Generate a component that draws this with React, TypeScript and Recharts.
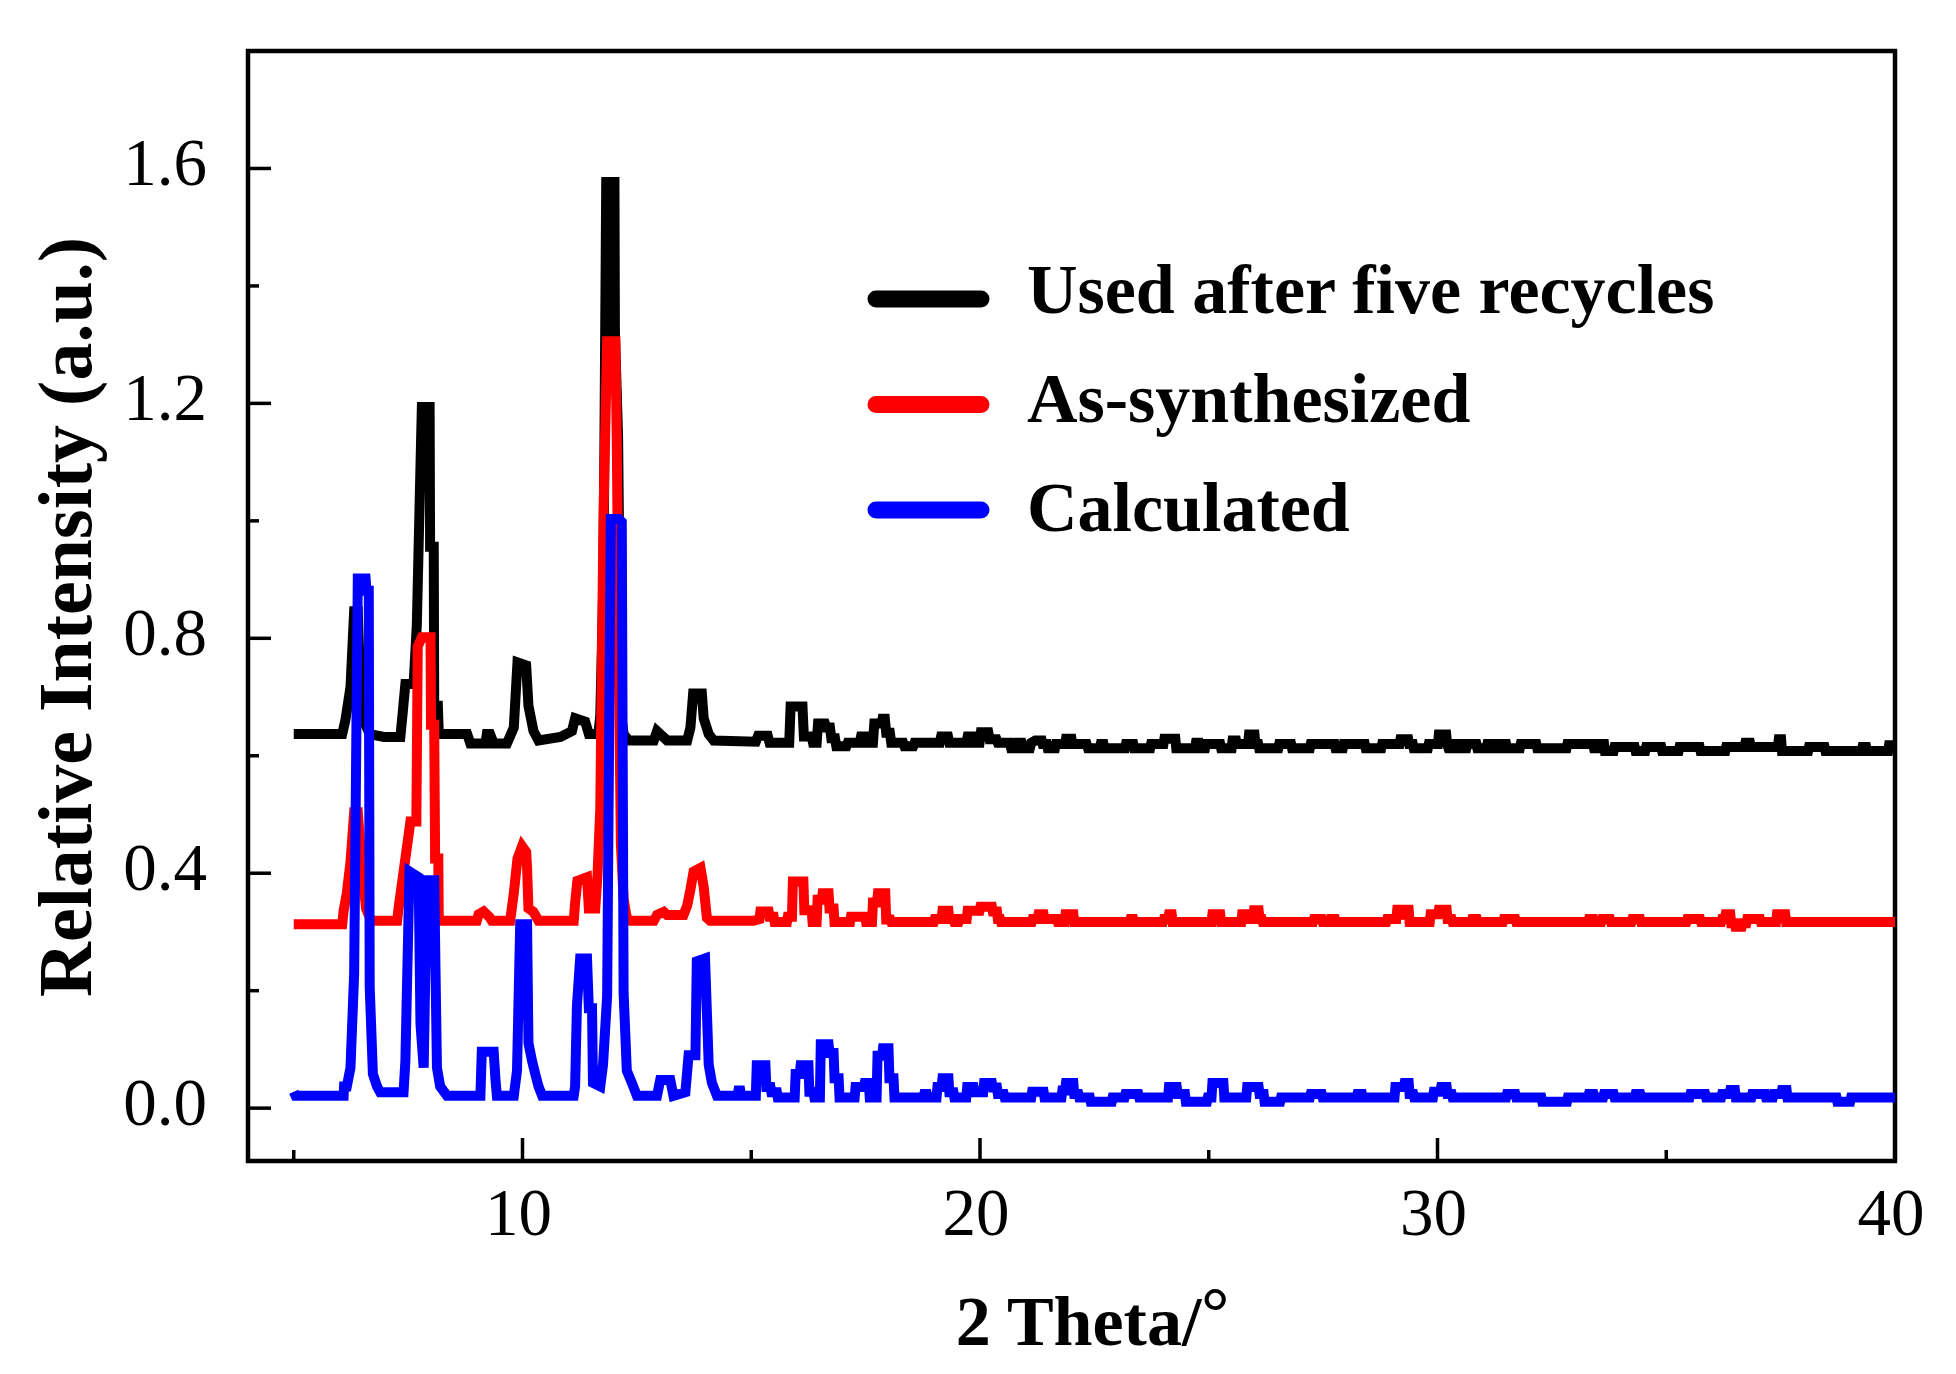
import React from 'react'
import { LineChart, Line, XAxis, YAxis, Legend, Label, ReferenceArea } from 'recharts'

type Pt = [number, number]

const seriesNames = ['Used after five recycles', 'As-synthesized', 'Calculated']
const seriesColors = ['#000000', '#ff0000', '#0000ff']

const xTicks = [5, 10, 15, 20, 25, 30, 35, 40]
const yTicks = [0, 0.2, 0.4, 0.6, 0.8, 1.0, 1.2, 1.4, 1.6]

// 2 theta / relative intensity
const usedRecycled: Pt[] = [
  [5.0, 0.637], [6.06, 0.637], [6.13, 0.661], [6.24, 0.717], [6.32, 0.846], [6.40, 0.846], [6.46, 0.70], [6.56, 0.655],
  [6.66, 0.637], [6.97, 0.632], [7.33, 0.632], [7.37, 0.664], [7.44, 0.722], [7.62, 0.722], [7.69, 0.823], [7.80, 1.194],
  [7.97, 1.194], [7.98, 0.956], [8.06, 0.956], [8.07, 0.685], [8.15, 0.685], [8.17, 0.637], [8.79, 0.637], [8.86, 0.621],
  [9.19, 0.621], [9.22, 0.637], [9.29, 0.637], [9.37, 0.621], [9.66, 0.621], [9.81, 0.648], [9.89, 0.759], [10.08, 0.754],
  [10.13, 0.685], [10.24, 0.642], [10.35, 0.626], [10.83, 0.632], [11.08, 0.642], [11.15, 0.664], [11.37, 0.658], [11.45, 0.637],
  [11.66, 0.637], [11.70, 0.669], [11.77, 0.90], [11.83, 1.577], [12.01, 1.577], [12.02, 1.322], [12.09, 1.141], [12.12, 0.90],
  [12.17, 0.66], [12.21, 0.637], [12.32, 0.626], [12.87, 0.626], [12.94, 0.642], [13.16, 0.626], [13.60, 0.626], [13.67, 0.648],
  [13.73, 0.706], [13.92, 0.706], [13.96, 0.664], [14.07, 0.637], [14.18, 0.626], [15.10, 0.624], [15.15, 0.634], [15.36, 0.634],
  [15.40, 0.622], [15.83, 0.622], [15.86, 0.684], [16.12, 0.684], [16.15, 0.633], [16.32, 0.633], [16.35, 0.622], [16.43, 0.622],
  [16.46, 0.655], [16.61, 0.655], [16.64, 0.648], [16.72, 0.648], [16.75, 0.630], [16.83, 0.630], [16.86, 0.616], [17.08, 0.616],
  [17.11, 0.622], [17.37, 0.622], [17.40, 0.633], [17.48, 0.633], [17.51, 0.622], [17.66, 0.622], [17.69, 0.655], [17.85, 0.655],
  [17.87, 0.663], [17.92, 0.663], [17.95, 0.639], [18.03, 0.639], [18.06, 0.622], [18.32, 0.622], [18.35, 0.616], [18.54, 0.616],
  [18.57, 0.622], [19.12, 0.622], [19.15, 0.633], [19.30, 0.633], [19.33, 0.622], [19.70, 0.622], [19.73, 0.633], [19.85, 0.633],
  [19.88, 0.622], [19.99, 0.622], [20.02, 0.640], [20.18, 0.640], [20.21, 0.628], [20.36, 0.628], [20.39, 0.622], [20.65, 0.622],
  [20.68, 0.613], [20.80, 0.613], [20.83, 0.622], [20.91, 0.622], [20.94, 0.613], [21.09, 0.613], [21.12, 0.622], [21.21, 0.626],
  [21.35, 0.626], [21.37, 0.620], [21.46, 0.620], [21.48, 0.613], [21.64, 0.613], [21.66, 0.620], [21.86, 0.620], [21.88, 0.629],
  [22.00, 0.629], [22.02, 0.620], [22.33, 0.620], [22.36, 0.613], [22.62, 0.613], [22.64, 0.620], [22.70, 0.620], [22.72, 0.613],
  [23.17, 0.613], [23.19, 0.620], [23.35, 0.620], [23.37, 0.613], [23.72, 0.613], [23.74, 0.620], [24.01, 0.620], [24.03, 0.629],
  [24.27, 0.629], [24.29, 0.613], [24.70, 0.613], [24.72, 0.622], [24.78, 0.622], [24.80, 0.613], [24.92, 0.613], [24.94, 0.620],
  [25.25, 0.620], [25.27, 0.613], [25.50, 0.613], [25.52, 0.626], [25.60, 0.626], [25.62, 0.620], [25.86, 0.620], [25.88, 0.636],
  [26.00, 0.636], [26.02, 0.620], [26.08, 0.620], [26.10, 0.613], [26.52, 0.613], [26.54, 0.620], [26.80, 0.620], [26.82, 0.613],
  [27.21, 0.613], [27.23, 0.620], [27.75, 0.620], [27.77, 0.613], [27.93, 0.613], [27.95, 0.620], [28.41, 0.620], [28.43, 0.613],
  [28.77, 0.613], [28.79, 0.620], [29.17, 0.620], [29.19, 0.628], [29.36, 0.628], [29.38, 0.620], [29.46, 0.620], [29.48, 0.613],
  [29.79, 0.613], [29.81, 0.620], [30.01, 0.620], [30.03, 0.636], [30.19, 0.636], [30.21, 0.620], [30.24, 0.613], [30.35, 0.613],
  [30.37, 0.620], [30.49, 0.620], [30.51, 0.613], [30.63, 0.613], [30.65, 0.620], [30.85, 0.620], [30.87, 0.613], [31.07, 0.613],
  [31.09, 0.620], [31.21, 0.620], [31.23, 0.613], [31.36, 0.613], [31.38, 0.620], [31.50, 0.620], [31.52, 0.613], [31.80, 0.613],
  [31.82, 0.620], [32.16, 0.620], [32.18, 0.613], [32.82, 0.613], [32.84, 0.620], [33.40, 0.620], [33.42, 0.613], [33.54, 0.613],
  [33.56, 0.620], [33.64, 0.620], [33.66, 0.608], [33.85, 0.608], [33.87, 0.615], [34.31, 0.615], [34.33, 0.608], [34.54, 0.608],
  [34.56, 0.615], [34.89, 0.615], [34.91, 0.608], [35.27, 0.608], [35.29, 0.615], [35.73, 0.615], [35.75, 0.608], [36.29, 0.608],
  [36.31, 0.615], [36.71, 0.615], [36.73, 0.622], [36.83, 0.622], [36.85, 0.615], [37.44, 0.615], [37.46, 0.628], [37.51, 0.628],
  [37.53, 0.608], [38.10, 0.608], [38.12, 0.615], [38.46, 0.615], [38.48, 0.608], [39.27, 0.608], [39.29, 0.615], [39.37, 0.615],
  [39.39, 0.608], [39.85, 0.608], [39.87, 0.618], [40.0, 0.618],
]

const asSynthesized: Pt[] = [
  [5.0, 0.313], [6.06, 0.313], [6.09, 0.336], [6.16, 0.366], [6.24, 0.419], [6.32, 0.504], [6.40, 0.504], [6.48, 0.42],
  [6.58, 0.34], [6.69, 0.319], [7.26, 0.319], [7.29, 0.340], [7.44, 0.425], [7.55, 0.488], [7.68, 0.488], [7.71, 0.786],
  [7.80, 0.802], [7.99, 0.802], [8.00, 0.653], [8.07, 0.653], [8.09, 0.425], [8.16, 0.425], [8.17, 0.319], [9.00, 0.319],
  [9.04, 0.330], [9.15, 0.335], [9.28, 0.325], [9.33, 0.319], [9.73, 0.319], [9.81, 0.366], [9.89, 0.425], [9.99, 0.446],
  [10.08, 0.436], [10.10, 0.409], [10.13, 0.340], [10.24, 0.334], [10.35, 0.319], [11.12, 0.319], [11.15, 0.350], [11.20, 0.387],
  [11.41, 0.393], [11.45, 0.340], [11.59, 0.340], [11.64, 0.398], [11.70, 0.510], [11.77, 1.009], [11.85, 1.306], [12.03, 1.306],
  [12.06, 1.141], [12.10, 0.80], [12.15, 0.45], [12.21, 0.356], [12.28, 0.324], [12.36, 0.319], [12.87, 0.319], [12.94, 0.329],
  [13.09, 0.334], [13.16, 0.329], [13.52, 0.329], [13.60, 0.345], [13.67, 0.372], [13.74, 0.403], [13.89, 0.409], [13.96, 0.377],
  [14.03, 0.324], [14.10, 0.319], [15.05, 0.319], [15.18, 0.322], [15.20, 0.335], [15.38, 0.335], [15.40, 0.326], [15.49, 0.326],
  [15.51, 0.317], [15.78, 0.317], [15.80, 0.326], [15.89, 0.326], [15.91, 0.386], [16.14, 0.386], [16.16, 0.337], [16.32, 0.337],
  [16.34, 0.317], [16.43, 0.317], [16.45, 0.355], [16.54, 0.355], [16.56, 0.366], [16.69, 0.366], [16.71, 0.340], [16.80, 0.340],
  [16.82, 0.317], [17.16, 0.317], [17.18, 0.326], [17.49, 0.326], [17.51, 0.317], [17.64, 0.317], [17.66, 0.350], [17.75, 0.350],
  [17.77, 0.366], [17.93, 0.366], [17.95, 0.321], [18.04, 0.321], [18.06, 0.317], [18.99, 0.317], [19.01, 0.322], [19.16, 0.322],
  [19.18, 0.336], [19.31, 0.336], [19.33, 0.322], [19.42, 0.322], [19.44, 0.317], [19.53, 0.317], [19.55, 0.322], [19.71, 0.322],
  [19.73, 0.336], [19.99, 0.336], [20.01, 0.343], [20.26, 0.343], [20.28, 0.335], [20.37, 0.335], [20.39, 0.322], [20.44, 0.322],
  [20.46, 0.317], [21.13, 0.317], [21.15, 0.322], [21.26, 0.322], [21.28, 0.330], [21.39, 0.330], [21.41, 0.322], [21.68, 0.322],
  [21.70, 0.317], [21.85, 0.317], [21.87, 0.330], [22.04, 0.330], [22.06, 0.317], [23.27, 0.317], [23.29, 0.322], [23.35, 0.322],
  [23.37, 0.317], [24.00, 0.317], [24.02, 0.322], [24.11, 0.322], [24.13, 0.330], [24.19, 0.330], [24.21, 0.317], [25.06, 0.317],
  [25.08, 0.330], [25.25, 0.330], [25.27, 0.317], [25.71, 0.317], [25.73, 0.330], [25.87, 0.330], [25.89, 0.322], [25.97, 0.322],
  [25.99, 0.337], [26.09, 0.337], [26.11, 0.322], [26.16, 0.322], [26.18, 0.317], [27.28, 0.317], [27.30, 0.322], [27.47, 0.322],
  [27.49, 0.317], [27.64, 0.317], [27.66, 0.322], [27.76, 0.322], [27.78, 0.317], [28.88, 0.317], [28.90, 0.322], [29.10, 0.322],
  [29.12, 0.338], [29.20, 0.338], [29.22, 0.322], [29.26, 0.338], [29.37, 0.338], [29.39, 0.317], [29.83, 0.317], [29.85, 0.330],
  [30.01, 0.330], [30.03, 0.338], [30.20, 0.338], [30.22, 0.322], [30.31, 0.322], [30.33, 0.317], [30.74, 0.317], [30.76, 0.322],
  [30.86, 0.322], [30.88, 0.317], [31.43, 0.317], [31.45, 0.322], [31.70, 0.322], [31.72, 0.317], [33.29, 0.317], [33.31, 0.322],
  [33.41, 0.322], [33.43, 0.317], [33.58, 0.317], [33.60, 0.322], [33.77, 0.322], [33.79, 0.317], [34.24, 0.317], [34.26, 0.322],
  [34.43, 0.322], [34.45, 0.317], [35.44, 0.317], [35.46, 0.322], [35.74, 0.322], [35.76, 0.317], [36.20, 0.317], [36.22, 0.322],
  [36.28, 0.322], [36.30, 0.330], [36.40, 0.330], [36.42, 0.315], [36.49, 0.315], [36.51, 0.309], [36.65, 0.309], [36.67, 0.315],
  [36.75, 0.315], [36.77, 0.322], [37.05, 0.322], [37.07, 0.317], [37.40, 0.317], [37.42, 0.330], [37.60, 0.330], [37.62, 0.317],
  [40.0, 0.317],
]

const calculated: Pt[] = [
  [5.0, 0.028], [5.04, 0.021], [6.09, 0.021], [6.10, 0.037], [6.16, 0.037], [6.24, 0.069], [6.32, 0.228], [6.40, 0.902],
  [6.57, 0.902], [6.59, 0.881], [6.64, 0.881], [6.66, 0.207], [6.73, 0.058], [6.82, 0.037], [6.89, 0.027], [7.40, 0.027],
  [7.44, 0.080], [7.53, 0.403], [7.73, 0.393], [7.77, 0.143], [7.84, 0.069], [7.91, 0.388], [8.07, 0.388], [8.13, 0.069],
  [8.20, 0.037], [8.35, 0.021], [9.08, 0.021], [9.11, 0.096], [9.37, 0.096], [9.41, 0.048], [9.44, 0.021], [9.81, 0.021],
  [9.88, 0.064], [9.95, 0.313], [10.10, 0.313], [10.13, 0.111], [10.21, 0.080], [10.28, 0.058], [10.35, 0.037], [10.43, 0.021],
  [11.12, 0.021], [11.15, 0.037], [11.19, 0.175], [11.26, 0.255], [11.41, 0.255], [11.45, 0.170], [11.52, 0.170], [11.54, 0.043],
  [11.70, 0.037], [11.76, 0.074], [11.85, 0.191], [11.93, 1.003], [12.10, 1.003], [12.17, 0.998], [12.21, 0.196], [12.28, 0.064],
  [12.39, 0.043], [12.50, 0.021], [12.94, 0.021], [13.01, 0.048], [13.23, 0.048], [13.30, 0.021], [13.56, 0.027], [13.63, 0.090],
  [13.78, 0.090], [13.81, 0.250], [13.99, 0.255], [14.07, 0.074], [14.14, 0.043], [14.25, 0.021], [14.70, 0.021], [14.72, 0.030],
  [14.76, 0.030], [14.78, 0.021], [15.10, 0.021], [15.12, 0.073], [15.31, 0.073], [15.33, 0.036], [15.42, 0.036], [15.44, 0.027],
  [15.56, 0.027], [15.58, 0.018], [15.95, 0.018], [15.97, 0.058], [16.06, 0.058], [16.08, 0.073], [16.25, 0.073], [16.27, 0.028],
  [16.36, 0.028], [16.38, 0.018], [16.50, 0.018], [16.52, 0.109], [16.69, 0.109], [16.71, 0.094], [16.80, 0.094], [16.82, 0.051],
  [16.91, 0.051], [16.93, 0.018], [17.26, 0.018], [17.28, 0.036], [17.46, 0.036], [17.48, 0.043], [17.57, 0.043], [17.59, 0.018],
  [17.74, 0.018], [17.76, 0.089], [17.86, 0.089], [17.88, 0.102], [18.00, 0.102], [18.02, 0.051], [18.11, 0.051], [18.13, 0.018],
  [18.76, 0.018], [18.78, 0.024], [18.84, 0.024], [18.86, 0.018], [19.05, 0.018], [19.07, 0.036], [19.16, 0.036], [19.18, 0.051],
  [19.31, 0.051], [19.33, 0.027], [19.42, 0.027], [19.44, 0.018], [19.70, 0.018], [19.72, 0.036], [19.86, 0.036], [19.88, 0.027],
  [20.07, 0.027], [20.09, 0.043], [20.26, 0.043], [20.28, 0.035], [20.37, 0.035], [20.39, 0.024], [20.52, 0.024], [20.54, 0.018],
  [21.12, 0.018], [21.14, 0.028], [21.39, 0.028], [21.41, 0.018], [21.78, 0.018], [21.80, 0.030], [21.86, 0.030], [21.88, 0.043],
  [22.04, 0.043], [22.06, 0.024], [22.15, 0.024], [22.17, 0.018], [22.40, 0.018], [22.42, 0.011], [22.88, 0.011], [22.90, 0.018],
  [23.16, 0.018], [23.18, 0.024], [23.46, 0.024], [23.48, 0.018], [24.11, 0.018], [24.13, 0.036], [24.30, 0.036], [24.32, 0.024],
  [24.48, 0.024], [24.50, 0.011], [24.96, 0.011], [24.98, 0.018], [25.06, 0.018], [25.08, 0.043], [25.32, 0.043], [25.34, 0.018],
  [25.82, 0.018], [25.84, 0.036], [26.09, 0.036], [26.11, 0.024], [26.20, 0.024], [26.22, 0.011], [26.56, 0.011], [26.58, 0.018],
  [27.21, 0.018], [27.23, 0.024], [27.47, 0.024], [27.49, 0.018], [28.23, 0.018], [28.25, 0.024], [28.35, 0.024], [28.37, 0.018],
  [29.06, 0.018], [29.08, 0.036], [29.26, 0.036], [29.28, 0.043], [29.37, 0.043], [29.39, 0.024], [29.47, 0.024], [29.49, 0.018],
  [29.90, 0.018], [29.92, 0.028], [30.06, 0.028], [30.08, 0.036], [30.20, 0.036], [30.22, 0.024], [30.31, 0.024], [30.33, 0.018],
  [31.50, 0.018], [31.52, 0.024], [31.70, 0.024], [31.72, 0.018], [32.27, 0.018], [32.29, 0.011], [32.83, 0.011], [32.85, 0.018],
  [33.29, 0.018], [33.31, 0.024], [33.41, 0.024], [33.43, 0.018], [33.62, 0.018], [33.64, 0.024], [33.85, 0.024], [33.87, 0.018],
  [34.31, 0.018], [34.33, 0.024], [34.43, 0.024], [34.45, 0.018], [35.51, 0.018], [35.53, 0.024], [35.85, 0.024], [35.87, 0.018],
  [36.20, 0.018], [36.22, 0.024], [36.38, 0.024], [36.40, 0.031], [36.50, 0.031], [36.52, 0.018], [36.86, 0.018], [36.88, 0.024],
  [37.16, 0.024], [37.18, 0.018], [37.33, 0.018], [37.35, 0.024], [37.51, 0.024], [37.53, 0.031], [37.63, 0.031], [37.65, 0.018],
  [38.72, 0.018], [38.74, 0.011], [39.02, 0.011], [39.04, 0.018], [40.0, 0.018],
]

const FONT = "'Liberation Serif', 'Times New Roman', serif"

const toRows = (pts: Pt[]) => pts.map(([t, v]) => ({ t, v }))

const XTick = (props: any) => {
  const { x, y, payload } = props
  const major = payload.value % 10 === 0
  return (
    <g>
      <line x1={x} x2={x} y1={y} y2={y - (major ? 23 : 11)} stroke="#000" strokeWidth={3.5} />
      {major && (
        <text x={x - 4} y={y + 74} textAnchor="middle" fontFamily={FONT} fontSize={67} fill="#000">
          {payload.value}
        </text>
      )}
    </g>
  )
}

const YTick = (props: any) => {
  const { x, y, payload } = props
  const major = Math.round(payload.value * 10) % 4 === 0
  return (
    <g>
      <line x1={x} x2={x + (major ? 23 : 11)} y1={y} y2={y} stroke="#000" strokeWidth={3.5} />
      {major && (
        <text x={x - 41} y={y + 17} textAnchor="end" fontFamily={FONT} fontSize={67} fill="#000">
          {payload.value.toFixed(1)}
        </text>
      )}
    </g>
  )
}

// legend rows follow the order of seriesNames, whatever order recharts hands them over
const LegendBox = (props: any) => {
  const given: any[] = props.payload || []
  const rows = seriesNames.map((n, i) => {
    const hit = given.find((p) => p.value === n)
    return { value: n, color: hit ? hit.color : seriesColors[i] }
  })
  return (
    <svg width={900} height={320}>
      {rows.map((p, i) => (
        <g key={p.value}>
          <line x1={16} x2={121} y1={59 + i * 105.5} y2={59 + i * 105.5} stroke={p.color} strokeWidth={17} strokeLinecap="round" />
          <text x={167} y={73 + i * 109} fontFamily={FONT} fontSize={70} fontWeight="bold" fill="#000">
            {p.value}
          </text>
        </g>
      ))}
    </svg>
  )
}

export const App = (): JSX.Element => {
  const series = [usedRecycled, asSynthesized, calculated]
  return (
    <div style={{ position: 'absolute', left: 0, top: 0, background: '#fff' }}>
      <LineChart width={1956} height={1374} margin={{ top: 51, right: 61, left: 0, bottom: 0 }}>
        <XAxis
          xAxisId="b"
          dataKey="t"
          type="number"
          domain={[4, 40]}
          ticks={xTicks}
          interval={0}
          allowDataOverflow
          height={213}
          tickSize={0}
          tickMargin={0}
          tickLine={false}
          tick={<XTick />}
          axisLine={false}
        >
          <Label
            content={(p: any) => {
              const vb = p.viewBox || { x: 248, y: 1161, width: 1647 }
              return (
                <text x={vb.x + vb.width / 2 + 21} y={vb.y + 184} textAnchor="middle" fontFamily={FONT} fontSize={70} fontWeight="bold" fill="#000">
                  2 Theta/<tspan dy={-10}>°</tspan>
                </text>
              )
            }}
          />
        </XAxis>
        <YAxis
          yAxisId="l"
          type="number"
          domain={[-0.09, 1.8]}
          ticks={yTicks}
          interval={0}
          allowDataOverflow
          width={248}
          tickSize={0}
          tickMargin={0}
          tickLine={false}
          tick={<YTick />}
          axisLine={false}
        >
          <Label
            content={(p: any) => {
              const vb = p.viewBox || { x: 0, y: 51, width: 248, height: 1110 }
              const cy = vb.y + vb.height / 2 + 11
              return (
                <text x={91} y={cy} transform={`rotate(-90, 91, ${cy})`} textAnchor="middle" fontFamily={FONT} fontSize={76} fontWeight="bold" fill="#000">
                  Relative Intensity (a.u.)
                </text>
              )
            }}
          />
        </YAxis>
        {series.map((pts, i) => (
          <Line
            key={seriesNames[i]}
            xAxisId="b"
            yAxisId="l"
            data={toRows(pts)}
            dataKey="v"
            name={seriesNames[i]}
            type="linear"
            stroke={seriesColors[i]}
            strokeWidth={10}
            dot={false}
            activeDot={false}
            isAnimationActive={false}
          />
        ))}
        {/* plot frame */}
        <ReferenceArea
          xAxisId="b"
          yAxisId="l"
          x1={4}
          x2={40}
          y1={-0.09}
          y2={1.8}
          fill="none"
          fillOpacity={0}
          stroke="#000"
          strokeWidth={4.5}
          ifOverflow="visible"
        />
        <Legend
          layout="vertical"
          align="center"
          verticalAlign="middle"
          content={<LegendBox />}
          wrapperStyle={{ left: 860, top: 240, width: 900, height: 320 }}
        />
      </LineChart>
    </div>
  )
}

export default App
